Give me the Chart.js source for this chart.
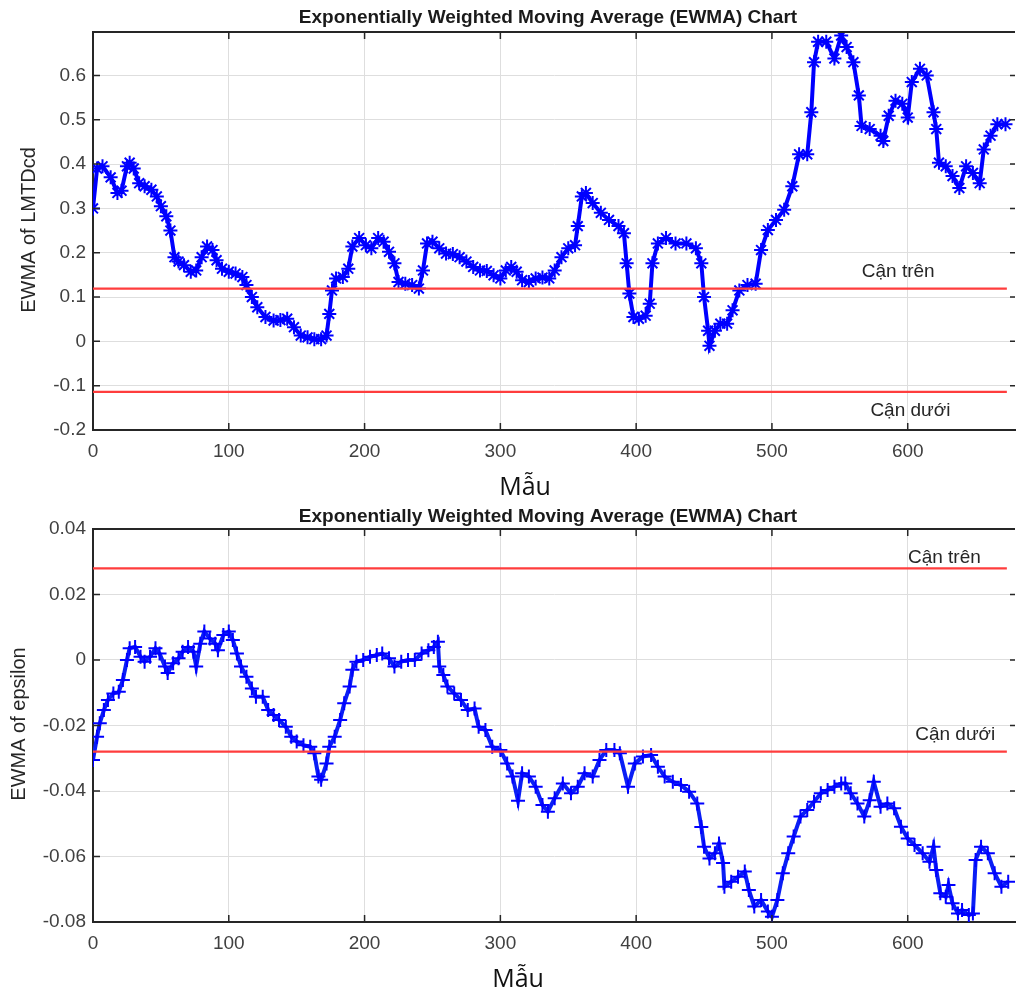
<!DOCTYPE html>
<html>
<head>
<meta charset="utf-8">
<script src="https://cdn.jsdelivr.net/npm/chart.js@4.4.1/dist/chart.umd.min.js"></script>
<style>
html, body { margin:0; padding:0; background:#fff; overflow:hidden; }
.box { position:absolute; left:0; width:1024px; }
#wrapTop { top:0; height:500px; }
#wrapBot { top:500px; height:492px; }
</style>
</head>
<body>
<div class="box" id="wrapTop"><canvas id="chartTop"></canvas></div>
<div class="box" id="wrapBot"><canvas id="chartBot"></canvas></div>
<script>
// ---------------- data ----------------

// top panel: EWMA of LMTDcd
const topSamples = [0,3,7,13,18,21,25,27,30,34,38,43,47,50,54,57,60,63,67,72,76,80,84,88,91,95,
  100,105,110,113,117,121,127,133,138,143,148,153,158,163,168,172,174,176,179,184,188,191,196,
  201,205,210,214,218,222,225,230,235,240,243,246,250,255,260,265,270,275,280,285,290,295,
  300,304,308,312,316,321,326,331,336,340,345,350,355,357,360,363,368,374,380,387,391,393,395,398,
  402,407,410,412,416,422,429,437,444,448,450,453,454,458,462,467,471,476,482,488,492,497,
  503,509,515,520,526,529,531,534,540,546,551,555,560,564,566,572,580,582,586,591,596,
  600,603,609,614,619,621,623,628,633,638,643,648,653,656,661,666,672];
const topEwma = [0.30,0.39,0.395,0.37,0.335,0.34,0.395,0.403,0.39,0.357,0.35,0.342,0.327,0.305,0.282,0.25,0.19,0.18,0.172,0.157,0.16,0.19,0.214,0.206,0.183,0.164,
  0.157,0.153,0.145,0.127,0.10,0.077,0.055,0.047,0.048,0.051,0.032,0.013,0.009,0.005,0.005,0.013,0.062,0.115,0.142,0.145,0.164,0.214,0.233,
  0.217,0.21,0.233,0.225,0.202,0.176,0.134,0.13,0.127,0.119,0.16,0.221,0.225,0.21,0.198,0.197,0.19,0.18,0.168,0.16,0.159,0.149,
  0.142,0.16,0.168,0.157,0.138,0.134,0.142,0.144,0.142,0.16,0.19,0.21,0.217,0.26,0.327,0.335,0.312,0.29,0.274,0.26,0.244,0.176,0.108,0.055,
  0.051,0.058,0.085,0.176,0.221,0.233,0.221,0.221,0.21,0.176,0.10,0.024,-0.01,0.024,0.04,0.04,0.07,0.115,0.127,0.13,0.206,0.251,
  0.274,0.297,0.35,0.422,0.422,0.517,0.63,0.676,0.676,0.638,0.69,0.664,0.63,0.555,0.486,0.479,0.464,0.452,0.509,0.543,0.536,
  0.505,0.585,0.615,0.6,0.517,0.479,0.403,0.395,0.373,0.346,0.395,0.38,0.357,0.433,0.464,0.49,0.49];

// bottom panel: EWMA of epsilon
const botSamples = [0,3,5,8,11,15,19,22,25,27,31,35,38,42,46,49,53,55,59,63,66,70,74,76,79,82,86,90,92,96,
  100,103,106,109,113,117,120,125,129,133,137,142,146,150,155,160,163,166,168,172,174,178,182,185,189,191,194,199,
  204,209,213,218,222,227,232,237,242,247,251,254,255,258,261,266,271,276,281,284,289,294,
  300,305,309,313,316,321,326,331,335,340,346,352,357,362,368,373,378,384,388,394,399,
  405,411,416,421,427,433,439,445,448,450,454,458,461,464,465,470,475,480,483,487,492,497,
  500,504,508,512,516,521,526,531,536,541,546,551,554,558,563,568,572,575,580,585,590,595,
  600,605,611,616,619,621,624,628,630,633,637,640,645,648,650,654,659,664,669,674];
const botEwma = [-0.0305,-0.0234,-0.0193,-0.0153,-0.0122,-0.0102,-0.0097,-0.0061,0,0.0036,0.004,0.001,-0.0005,0.001,0.0036,0.002,-0.002,-0.004,-0.001,0.0005,0.0025,0.004,0.0025,-0.002,0.005,0.0087,0.0066,0.005,0.003,0.0076,
  0.0087,0.0061,0.002,-0.002,-0.0051,-0.0087,-0.0112,-0.0112,-0.0153,-0.0168,-0.0183,-0.0204,-0.0234,-0.0249,-0.026,-0.0265,-0.0285,-0.0356,-0.0366,-0.0316,-0.0265,-0.0234,-0.0183,-0.0132,-0.0081,-0.003,-0.0005,0,
  0.001,0.0015,0.002,0.0005,-0.002,-0.0005,0,0,0.002,0.003,0.004,0.0056,-0.002,-0.0046,-0.0081,-0.0102,-0.0122,-0.0153,-0.0148,-0.0204,-0.0214,-0.0265,
  -0.0275,-0.0316,-0.0356,-0.043,-0.0346,-0.0356,-0.0387,-0.0443,-0.0463,-0.0422,-0.0377,-0.0407,-0.0387,-0.0346,-0.0356,-0.0305,-0.0275,-0.0275,-0.0285,-0.0387,-0.0316,
  -0.0295,-0.029,-0.0326,-0.0356,-0.0372,-0.0382,-0.0402,-0.0438,-0.051,-0.057,-0.0606,-0.059,-0.056,-0.062,-0.0692,-0.0677,-0.0662,-0.0646,-0.0702,-0.0753,-0.0733,-0.0768,
  -0.0784,-0.0733,-0.0651,-0.059,-0.0539,-0.0478,-0.0458,-0.0433,-0.0407,-0.0397,-0.0387,-0.0377,-0.0377,-0.0407,-0.0438,-0.0478,-0.0428,-0.0372,-0.0448,-0.0438,-0.0453,-0.0509,
  -0.0545,-0.0565,-0.059,-0.0616,-0.057,-0.0641,-0.0712,-0.0723,-0.0687,-0.0743,-0.0774,-0.0763,-0.0779,-0.0774,-0.0611,-0.057,-0.059,-0.0651,-0.0692,-0.0677];

// control limits (upper, lower) and last sample index
const topLimits = [0.119, -0.114];
const botLimits = [0.028, -0.028];
const lastSample = 673;

// tick labels
const xTicks = [0, 100, 200, 300, 400, 500, 600];
const topYTicks = [-0.2, -0.1, 0, 0.1, 0.2, 0.3, 0.4, 0.5, 0.6];
const botYTicks = [-0.08, -0.06, -0.04, -0.02, 0, 0.02, 0.04];

const chartTitle = "Exponentially Weighted Moving Average (EWMA) Chart";

// ---------------- drawing helpers ----------------

const AXIS_FONT = '"Liberation Sans", Arial, sans-serif';

// box, inward ticks, titles and limit labels (MATLAB look)
const decor = {
  id: "decor",
  afterDatasetsDraw(chart, args, o) {
    const ctx = chart.ctx, a = chart.chartArea;
    const xs = chart.scales.x, ys = chart.scales.y;
    ctx.save();

    ctx.strokeStyle = "#262626";
    ctx.lineWidth = 2;
    ctx.beginPath();
    ctx.moveTo(a.left, a.top);
    ctx.lineTo(a.right, a.top);
    ctx.stroke();

    ctx.lineWidth = 1.5;
    xs.ticks.forEach(t => {
      const px = xs.getPixelForValue(t.value);
      ctx.beginPath();
      ctx.moveTo(px, a.bottom); ctx.lineTo(px, a.bottom - 7);
      ctx.moveTo(px, a.top); ctx.lineTo(px, a.top + 7);
      ctx.stroke();
    });
    ys.ticks.forEach(t => {
      const py = ys.getPixelForValue(t.value);
      ctx.beginPath();
      ctx.moveTo(a.left, py); ctx.lineTo(a.left + 7, py);
      ctx.moveTo(a.right, py); ctx.lineTo(a.right - 5, py);
      ctx.stroke();
    });

    ctx.textAlign = "center";
    ctx.textBaseline = "middle";

    ctx.font = "19px " + AXIS_FONT;
    ctx.fillStyle = "#262626";
    o.labels.forEach(l => {
      ctx.fillText(l.text, xs.getPixelForValue(l.x), ys.getPixelForValue(l.y));
    });

    ctx.font = "bold 19px " + AXIS_FONT;
    ctx.fillStyle = "#1a1a1a";
    ctx.fillText(chartTitle, o.titleX, o.titleY);

    ctx.textBaseline = "alphabetic";
    ctx.font = '25px "Open Sans", "Noto Sans", sans-serif';
    ctx.fillStyle = "#111";
    ctx.fillText("Mẫu", o.xTitleX, o.xTitleY);

    ctx.translate(o.yTitleX, o.yTitleY);
    ctx.rotate(-Math.PI / 2);
    ctx.textBaseline = "middle";
    ctx.font = "20px " + AXIS_FONT;
    ctx.fillStyle = "#262626";
    ctx.fillText(o.yTitle, 0, 0);

    ctx.restore();
  }
};

function points(xs, ys)
{
  return xs.map((x, i) => ({ x: x, y: ys[i] }));
}

function limitLine(v)
{
  return {
    data: [{ x: 0, y: v }, { x: lastSample, y: v }],
    showLine: true,
    borderColor: "#ff3d3d",
    borderWidth: 2.2,
    pointRadius: 0,
    order: 1
  };
}

function makeChart(id, series, marker, lineColor, limits, yMin, yMax, yTicks, padTop, deco)
{
  return new Chart(document.getElementById(id), {
    type: "scatter",
    data: {
      datasets: [
        limitLine(limits[0]),
        limitLine(limits[1]),
        {
          data: series,
          showLine: true,
          borderColor: lineColor,
          borderWidth: 4,
          pointStyle: marker,
          pointRadius: 7,
          pointBorderColor: "#0000ff",
          pointBorderWidth: 2,
          pointBackgroundColor: "#0000ff",
          order: 2
        }
      ]
    },
    options: {
      responsive: true,
      maintainAspectRatio: false,
      animation: false,
      layout: { padding: { left: 0, right: 0, top: padTop, bottom: 0 } },
      plugins: { legend: { display: false }, tooltip: { enabled: false }, decor: deco },
      scales: {
        x: {
          type: "linear",
          min: 0,
          max: 679,
          afterBuildTicks: s => { s.ticks = xTicks.map(v => ({ value: v })); },
          afterFit: s => { s.height = 70; },
          grid: { color: "#dedede", lineWidth: 1, drawTicks: false },
          border: { display: true, color: "#262626", width: 2 },
          ticks: { padding: 10, color: "#404040", font: { size: 19, family: AXIS_FONT },
                   callback: v => String(v) }
        },
        y: {
          min: yMin,
          max: yMax,
          afterBuildTicks: s => { s.ticks = yTicks.map(v => ({ value: v })); },
          afterFit: s => { s.width = 93; },
          grid: { color: "#dedede", lineWidth: 1, drawTicks: false },
          border: { display: true, color: "#262626", width: 2 },
          ticks: { padding: 7, color: "#404040", font: { size: 19, family: AXIS_FONT },
                   callback: v => String(+Number(v).toFixed(2)) }
        }
      }
    },
    plugins: [decor]
  });
}

// ---------------- charts ----------------

makeChart("chartTop", points(topSamples, topEwma), "star", "#0000ff",
  topLimits, -0.2, 0.698, topYTicks, 32,
  {
    titleX: 548, titleY: 18,
    xTitleX: 525, xTitleY: 495,
    yTitle: "EWMA of LMTDcd", yTitleX: 29, yTitleY: 230,
    labels: [
      { text: "Cận trên", x: 593, y: 0.156 },
      { text: "Cận dưới", x: 602, y: -0.156 }
    ]
  });

makeChart("chartBot", points(botSamples, botEwma), "cross", "#0a1ef5",
  botLimits, -0.08, 0.04, botYTicks, 29,
  {
    titleX: 548, titleY: 17,
    xTitleX: 518, xTitleY: 487,
    yTitle: "EWMA of epsilon", yTitleX: 19, yTitleY: 224,
    labels: [
      { text: "Cận trên", x: 627, y: 0.0311 },
      { text: "Cận dưới", x: 635, y: -0.0229 }
    ]
  });
</script>
</body>
</html>
